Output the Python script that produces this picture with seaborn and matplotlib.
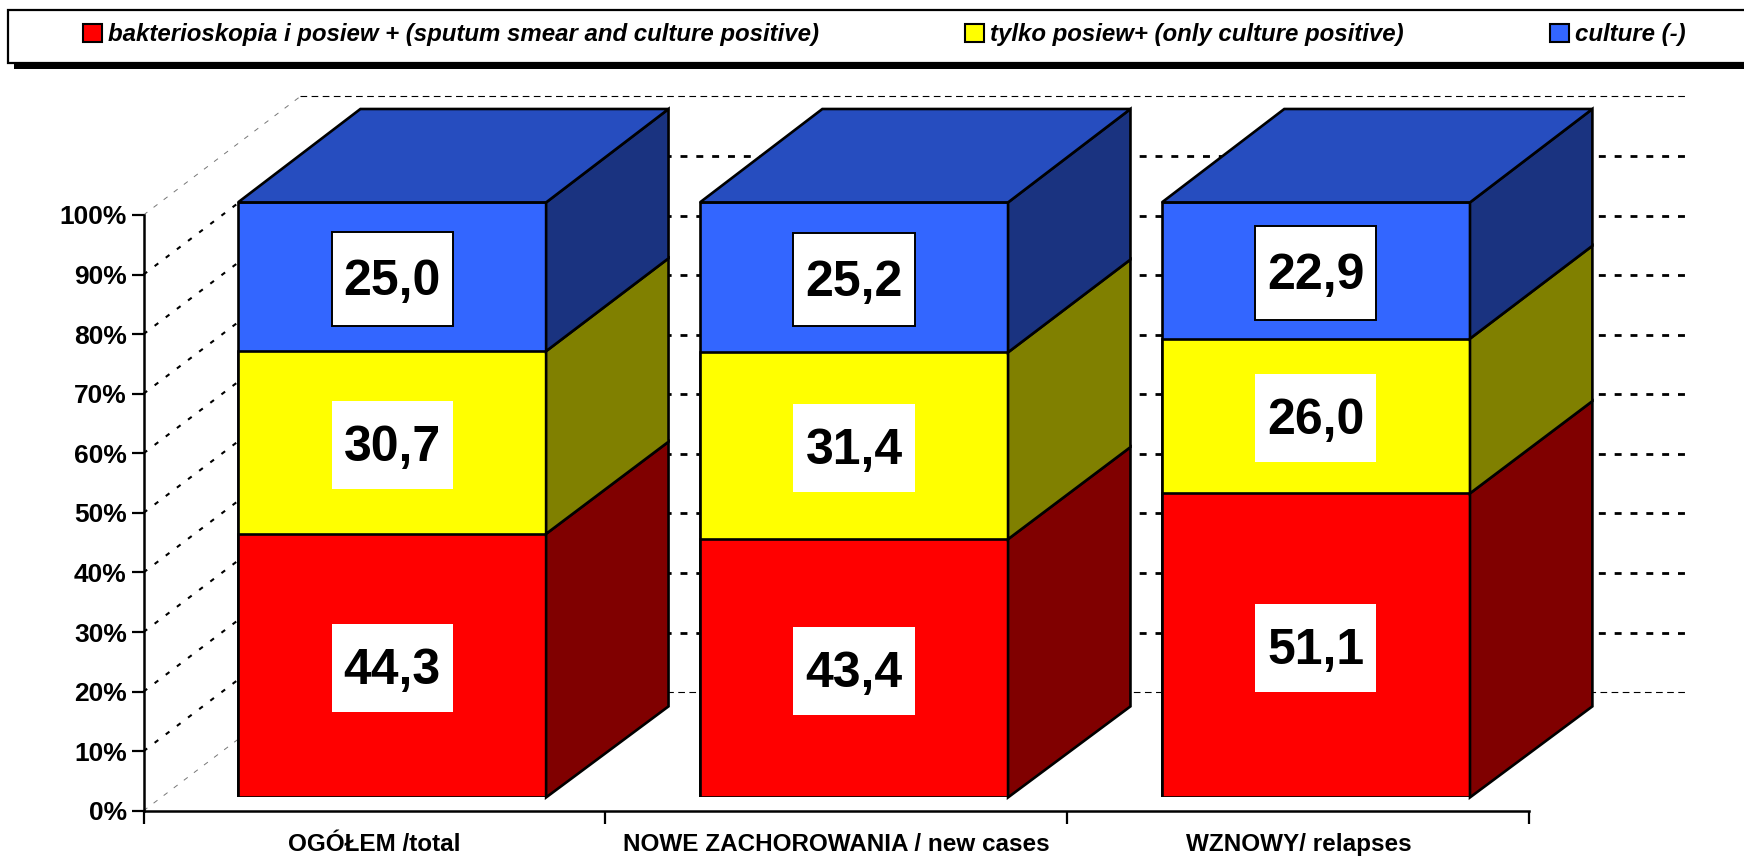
from matplotlib.patches import Patch, Polygon, Rectangle
import matplotlib.pyplot as plt
import numpy as np
import pandas as pd
import seaborn as sns

categories = ['OGÓŁEM /total', 'NOWE ZACHOROWANIA / new cases', 'WZNOWY/ relapses']
smear_culture = [44.3, 43.4, 51.1]
culture_only = [30.7, 31.4, 26.0]
culture_neg = [25.0, 25.2, 22.9]
legend_labels = ['bakterioskopia i posiew + (sputum smear and culture positive)',
                 'tylko posiew+ (only culture positive)',
                 'culture (-)']
y_ticks = [0, 10, 20, 30, 40, 50, 60, 70, 80, 90, 100]

front_colors = ['#FF0000', '#FFFF00', '#3366FF']
side_colors = ['#800000', '#808000', '#1A3380']
top_color = '#264DBF'

W, H = 1744, 856

sns.set_theme(style='white')
plt.rcParams['font.family'] = ['Liberation Sans', 'DejaVu Sans']
plt.rcParams['font.weight'] = 'bold'

fig = plt.figure(figsize=(W / 100, H / 100), dpi=100)


def px_axes(left, right, top, bottom):
    return fig.add_axes([left / W, 1 - bottom / H, (right - left) / W, (bottom - top) / H])


# axis plane, and the plane of the bar fronts which sits a bit deeper
ax = px_axes(143.5, 1529.3, 215, 810.8)
ax_bar = px_axes(161.1, 1546.9, 202.4, 797.4)

ax.set_xlim(-0.5, 2.5)
ax.set_ylim(0, 100)
ax.set_yticks(y_ticks)
ax.set_yticklabels([f'{t}%' for t in y_ticks], fontsize=19, fontweight='bold', color='black')
ax.set_xticks([-0.5, 0.5, 1.5, 2.5])
ax.set_xticklabels([])
ax.set_xticks([0, 1, 2], minor=True)
ax.set_xticklabels(categories, minor=True, fontsize=17.5, fontweight='bold', color='black')
ax.tick_params(axis='both', which='major', length=9, width=1.6, color='black', left=True, bottom=True, pad=3)
ax.tick_params(axis='x', which='minor', length=0, pad=16, bottom=True)
sns.despine(ax=ax)
for side in ['left', 'bottom']:
    ax.spines[side].set_color('black')
    ax.spines[side].set_linewidth(1.8)
ax.patch.set_alpha(0)

# back wall, the diagonals look sparser than the horizontal part
wall_dx, wall_dy = 0.3395, 19.9
for t in y_ticks:
    if t in (0, 100):
        ax.plot([-0.5 + wall_dx, 2.5 + wall_dx], [t + wall_dy, t + wall_dy], color='black', lw=0.8,
                linestyle=(0, (6, 4)), clip_on=False, zorder=0)
        ax.plot([-0.5, -0.5 + wall_dx], [t, t + wall_dy], color='#777777', lw=0.7,
                linestyle=(0, (5, 8)), clip_on=False, zorder=0)
    else:
        ax.plot([-0.5 + wall_dx, 2.5 + wall_dx], [t + wall_dy, t + wall_dy], color='black', lw=2.0,
                linestyle=(0, (2.5, 3.2)), clip_on=False, zorder=0)
        ax.plot([-0.5, -0.5 + wall_dx], [t, t + wall_dy], color='black', lw=1.5,
                linestyle=(0, (2.2, 4.5)), clip_on=False, zorder=0)

# stacked bars, tallest first so the lower segments sit in front
df = pd.DataFrame({'category': categories, 'smear': smear_culture, 'culture': culture_only, 'neg': culture_neg})
df['c1'] = df['smear']
df['c2'] = df['c1'] + df['culture']
df['c3'] = df['c2'] + df['neg']

bar_width = 0.667
edge_lw = 1.9
for col, color in zip(['c3', 'c2', 'c1'], front_colors[::-1]):
    sns.barplot(data=df, x='category', y=col, order=categories, color=color, saturation=1,
                width=bar_width, edgecolor='black', linewidth=edge_lw, ax=ax_bar)

ax_bar.set_xlim(-0.5, 2.5)
ax_bar.set_ylim(0, 100)
ax_bar.axis('off')

depth_x, depth_y = 0.265, 15.7
for i in range(len(categories)):
    x0 = i - bar_width / 2
    x1 = i + bar_width / 2
    levels = [0, df['c1'][i], df['c2'][i], df['c3'][i]]
    for k in range(3):
        low, high = levels[k], levels[k + 1]
        ax_bar.add_patch(Polygon([(x1, low), (x1 + depth_x, low + depth_y - 0.4 * (1 - low / 100)),
                                  (x1 + depth_x, high + depth_y - 0.4 * (1 - high / 100)), (x1, high)],
                                 closed=True, facecolor=side_colors[k], edgecolor='black',
                                 linewidth=edge_lw, clip_on=False, joinstyle='miter'))
        mid = (low + high) / 2 - 0.4
        box_h = 15.7 if k == 2 else 14.8
        box_w = 0.262
        ax_bar.add_patch(Rectangle((i - box_w / 2, mid - box_h / 2), box_w, box_h, facecolor='white',
                                   edgecolor='black' if k == 2 else 'none', linewidth=1.4, zorder=3))
        ax_bar.text(i, mid - 0.5, f'{levels[k + 1] - low:.1f}'.replace('.', ','), ha='center', va='center',
                    fontsize=36, fontweight='bold', color='black', zorder=4)
    top = levels[3]
    ax_bar.add_patch(Polygon([(x0, top), (x1, top), (x1 + depth_x, top + depth_y), (x0 + depth_x, top + depth_y)],
                             closed=True, facecolor=top_color, edgecolor='black', linewidth=edge_lw,
                             clip_on=False, joinstyle='miter'))

# legend box with its hard shadow
fig.add_artist(Rectangle((14 / W, 1 - 69 / H), (W - 14 + 10) / W, 50 / H, transform=fig.transFigure,
                         facecolor='black', edgecolor='black', linewidth=0))
fig.add_artist(Rectangle((8 / W, 1 - 63 / H), (W - 8 + 10) / W, 53 / H, transform=fig.transFigure,
                         facecolor='white', edgecolor='black', linewidth=1.6))
handles = [Patch(facecolor=c, edgecolor='black', linewidth=1.5) for c in front_colors]
leg = fig.legend(handles, legend_labels, ncol=3, loc='center left', bbox_to_anchor=(83 / W, 1 - 35 / H),
                 frameon=False, borderpad=0, borderaxespad=0, handlelength=0.78, handleheight=0.78,
                 handletextpad=0.25, columnspacing=6.1, labelcolor='black',
                 prop={'family': 'Liberation Sans', 'style': 'italic', 'weight': 'bold', 'size': 17.3})
leg.set_zorder(5)

fig.savefig('out.png', dpi=100)
